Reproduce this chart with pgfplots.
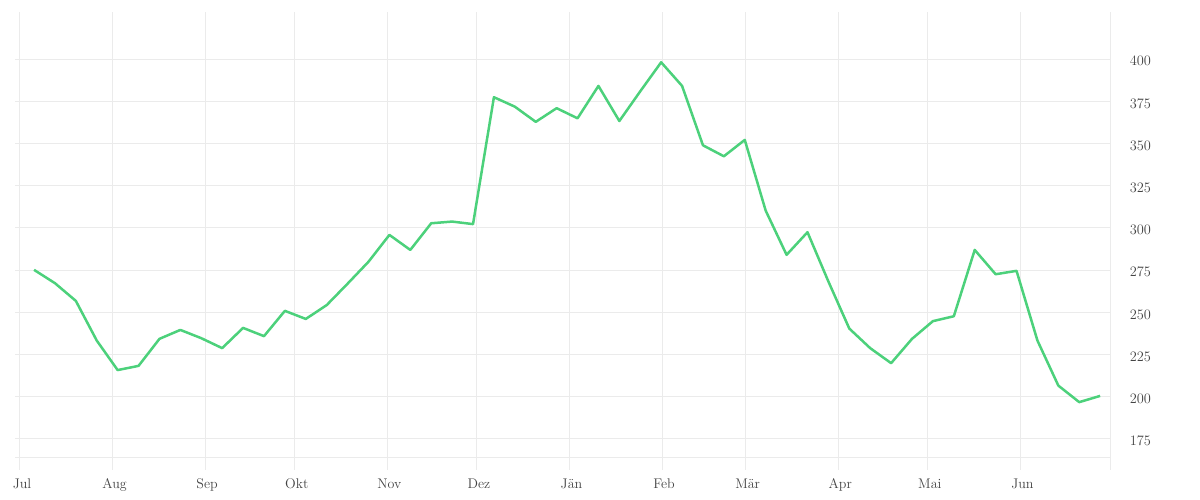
\documentclass[border=0pt]{standalone}
\usepackage{pgfplots}
\pgfplotsset{compat=1.18}
\definecolor{linegreen}{HTML}{4CD17B}
\definecolor{gridgray}{HTML}{EBEBEB}
\definecolor{labelgray}{HTML}{444444}
\begin{document}
\begin{tikzpicture}
\useasboundingbox (-20pt,-42pt) rectangle (1180pt,458pt);
\begin{axis}[
  at={(0,0)}, anchor=south west,
  scale only axis, width=1090pt, height=446pt,
  xmin=0, xmax=365, ymin=163.7, ymax=428,
  axis line style={draw=none},
  xtick={0,31,62,92,123,153,184,215,243,274,304,335,365},
  xticklabels={Jul,Aug,Sep,Okt,Nov,Dez,Jän,Feb,Mär,Apr,Mai,Jun,},
  ytick={175,200,...,400},
  xtick pos=bottom,
  ytick pos=left,
  yticklabel pos=right,
  tick align=outside,
  xtick style={gridgray, line width=1pt, /pgfplots/major tick length=12pt},
  ytick style={gridgray, line width=1pt, /pgfplots/major tick length=5pt},
  grid=major,
  major grid style={gridgray, line width=1pt},
  tick label style={font=\fontsize{14}{16}\selectfont, text=labelgray},
  xticklabel style={xshift=2pt, yshift=-13pt, text height=10pt, text depth=3pt},
  yticklabel style={xshift=12pt, yshift=-2pt, anchor=west},
  clip=false,
]
\draw[gridgray, line width=1pt] ([xshift=-5pt]rel axis cs:0,0) -- (rel axis cs:1,0);
\addplot[linegreen, line width=2.5pt, line join=round, mark=none] coordinates {
(4.7,275.2) (11.7,267.3) (18.7,256.8) (25.7,233.3) (32.7,215.8) (39.7,218.3)
(46.7,234.3) (53.7,239.6) (60.7,234.7) (67.7,228.8) (74.7,240.8) (81.7,235.9)
(88.7,250.9) (95.7,246.1) (102.7,254.3) (109.7,267.0) (116.7,280.0) (123.7,295.9)
(130.7,287.0) (137.7,302.8) (144.7,303.8) (151.7,302.3) (158.7,377.5) (165.7,371.9)
(172.7,362.9) (179.7,371.0) (186.7,365.0) (193.7,384.2) (200.7,363.4) (207.7,381.0)
(214.7,398.2) (221.7,384.2) (228.7,349.0) (235.7,342.5) (242.7,352.2) (249.7,310.3)
(256.7,284.1) (263.7,297.5) (270.7,268.3) (277.7,240.4) (284.7,228.8) (291.7,219.9)
(298.7,234.3) (305.7,244.8) (312.7,247.7) (319.7,287.0) (326.7,272.6) (333.7,274.6)
(340.7,233.3) (347.7,206.6) (354.7,196.8) (361.7,200.5)
};
\end{axis}
\end{tikzpicture}
\end{document}
